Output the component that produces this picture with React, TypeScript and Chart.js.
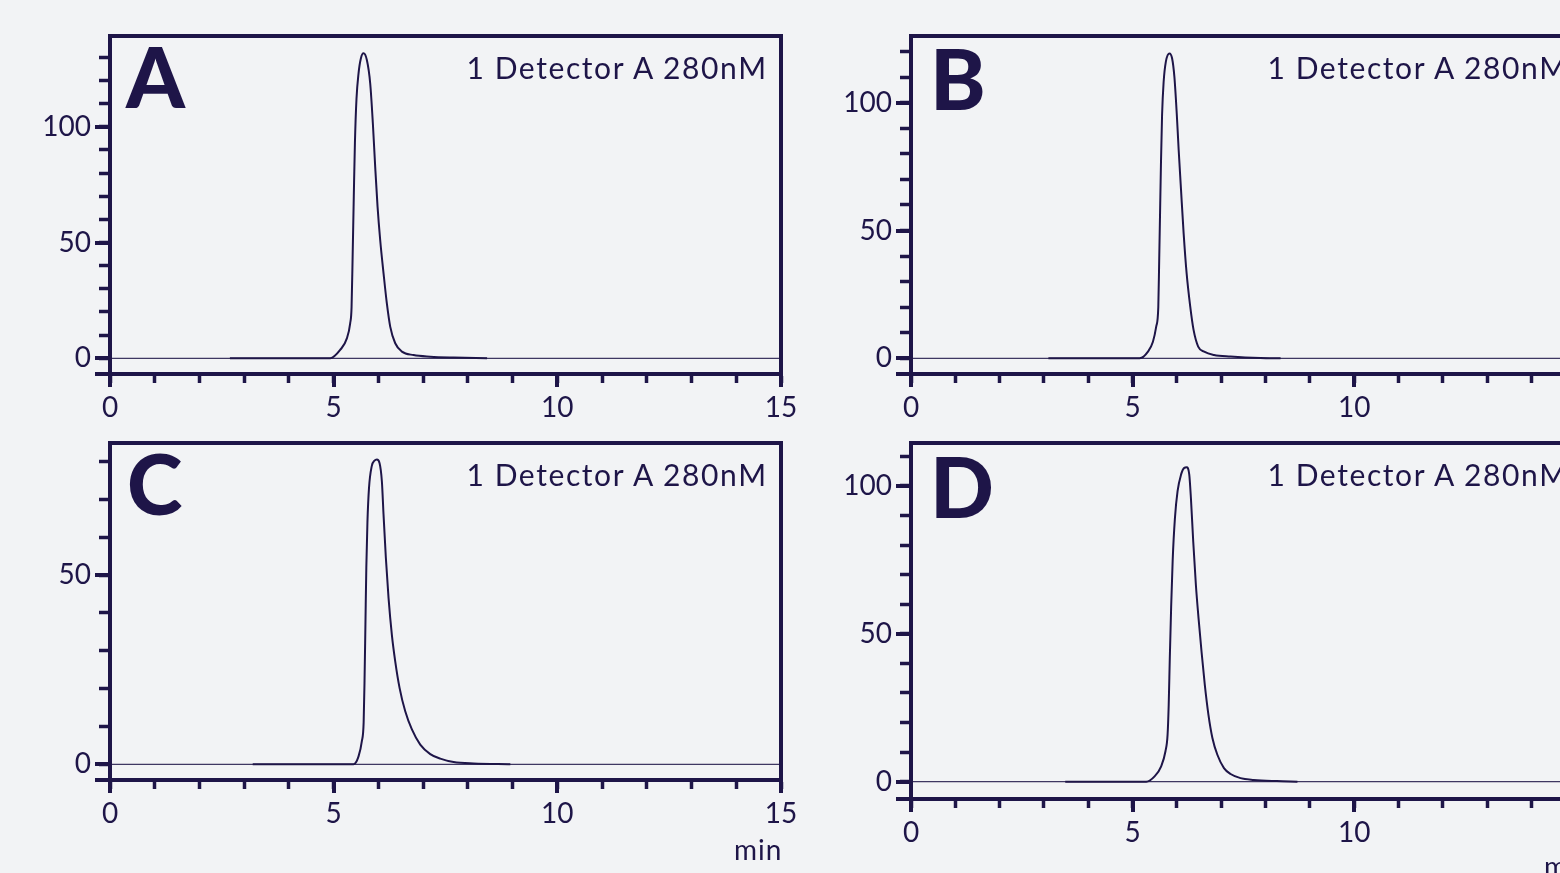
import React, { useEffect, useRef } from 'react';
import { Chart, registerables } from 'chart.js';

Chart.register(...registerables);

const NAVY = '#1e1548';
const BG = '#f2f3f5';
const FONT = 'Lato, "Noto Sans", sans-serif';

// ---------- data ----------
const xTickLabels = [0, 5, 10, 15];
const baselineTimes = [0, 15];
const baselineValues = [0, 0];

const timeA = [2.68, 4.922, 5.145, 5.295, 5.369, 5.4, 5.425, 5.45, 5.475, 5.51, 5.556, 5.608, 5.667, 5.742, 5.817, 5.876, 5.928, 5.981, 6.04, 6.115, 6.189, 6.264, 6.376, 6.525, 6.786, 7.159, 7.681, 8.43];
const signalA = [0, 0, 3.6, 8.6, 15.1, 22, 45, 70, 93, 112, 123.1, 129.5, 131.7, 128.8, 118.7, 101.5, 82.8, 65.5, 51.1, 36.7, 23.7, 13.7, 6.5, 2.9, 1.4, 0.7, 0.3, 0];
const yLabelsA = [0, 50, 100];

const timeB = [3.1, 5.16, 5.347, 5.459, 5.533, 5.58, 5.6, 5.62, 5.64, 5.665, 5.7, 5.75, 5.832, 5.891, 5.943, 5.996, 6.04, 6.093, 6.152, 6.219, 6.301, 6.376, 6.48, 6.615, 6.838, 7.211, 7.882, 8.34];
const signalB = [0, 0, 2.6, 6.5, 12.4, 20, 38, 57, 76, 95, 108, 116, 119.3, 117.4, 110.2, 95.9, 81.5, 65.9, 48.9, 33.3, 20.2, 11.1, 4.6, 2.6, 1.3, 0.7, 0.1, 0];
const yLabelsB = [0, 50, 100];

const timeC = [3.19, 5.444, 5.556, 5.63, 5.67, 5.69, 5.71, 5.73, 5.755, 5.79, 5.85, 5.913, 5.966, 6.025, 6.078, 6.115, 6.167, 6.227, 6.301, 6.376, 6.473, 6.6, 6.749, 6.935, 7.159, 7.383, 7.681, 8.128, 8.95];
const signalC = [0, 0, 2.1, 6.1, 11, 22, 37, 52, 64, 73, 78.7, 80.2, 80.5, 79.6, 74.7, 65.9, 54.5, 43.9, 34.2, 27.2, 20.2, 14.0, 9.2, 5.2, 2.7, 1.5, 0.6, 0.2, 0];
const yLabelsC = [0, 50];

const timeD = [3.48, 5.309, 5.496, 5.645, 5.742, 5.79, 5.815, 5.84, 5.87, 5.905, 5.955, 6.015, 6.093, 6.167, 6.219, 6.279, 6.316, 6.368, 6.428, 6.488, 6.555, 6.629, 6.711, 6.801, 6.913, 7.062, 7.211, 7.435, 7.733, 8.255, 8.72];
const signalD = [0, 0, 1.8, 5.2, 10.3, 16, 26, 42, 59, 75, 89, 98.2, 103.8, 106.1, 106.3, 103.8, 95.9, 81.3, 66.6, 55.3, 44.1, 32.8, 22.7, 14.8, 9.1, 4.6, 2.6, 1.2, 0.6, 0.2, 0];
const yLabelsD = [0, 50, 100];

const detectorLabel = '1 Detector A 280nM';

// ---------- layout ----------
const CANVAS_W = 1600;
const CANVAS_H = 880;
const YW = 100;
const XH = 70;
const LW = 4;

type Panel = {
  letter: string;
  times: number[];
  values: number[];
  yLabels: number[];
  yMin: number;
  yMax: number;
  area: { left: number; top: number; right: number; bottom: number };
  letterPos: { left: number; top: number };
  showMin: { left: number; top: number } | null;
};

const panels: Panel[] = [
  { letter: 'A', times: timeA, values: signalA, yLabels: yLabelsA, yMin: -6.78, yMax: 139.2,
    area: { left: 110, top: 36, right: 781, bottom: 374 }, letterPos: { left: 126, top: 34 }, showMin: null },
  { letter: 'B', times: timeB, values: signalB, yLabels: yLabelsB, yMin: -6.14, yMax: 126.1,
    area: { left: 911, top: 36, right: 1582, bottom: 374 }, letterPos: { left: 930, top: 36 }, showMin: null },
  { letter: 'C', times: timeC, values: signalC, yLabels: yLabelsC, yMin: -4.15, yMax: 84.87,
    area: { left: 110, top: 443, right: 781, bottom: 780 }, letterPos: { left: 127, top: 441 }, showMin: { left: 734, top: 835 } },
  { letter: 'D', times: timeD, values: signalD, yLabels: yLabelsD, yMin: -5.85, yMax: 114.5,
    area: { left: 911, top: 443, right: 1582, bottom: 799 }, letterPos: { left: 930, top: 444 }, showMin: { left: 1544, top: 852 } },
];

const alignW = (v: number) => Math.round(v - LW / 2) + LW / 2;

const framePlugin = {
  id: 'frame',
  afterDraw(chart: any, _args: any, opts: any) {
    const { ctx, chartArea } = chart;
    const { left, top, right, bottom } = chartArea;
    const xs = chart.scales.x;
    const ys = chart.scales.y;
    const L = alignW(left), T = alignW(top), R = alignW(right), B = alignW(bottom);
    ctx.save();
    ctx.strokeStyle = NAVY;
    ctx.lineWidth = LW;
    ctx.lineJoin = 'miter';
    ctx.lineCap = 'butt';
    // top and right border
    ctx.beginPath();
    ctx.moveTo(L - LW / 2, T);
    ctx.lineTo(R, T);
    ctx.lineTo(R, B);
    ctx.stroke();
    // bottom line extension to the left
    ctx.beginPath();
    ctx.moveTo(L - 15, B);
    ctx.lineTo(L, B);
    ctx.stroke();
    // longer major ticks
    ctx.beginPath();
    for (const v of xTickLabels) {
      const px = alignW(xs.getPixelForValue(v));
      ctx.moveTo(px, B);
      ctx.lineTo(px, bottom + 13);
    }
    for (const v of opts.yLabels as number[]) {
      const py = alignW(ys.getPixelForValue(v));
      ctx.moveTo(L, py);
      ctx.lineTo(left - 15, py);
    }
    ctx.stroke();
    ctx.restore();
  },
};

function PanelChart({ p }: { p: Panel }) {
  const ref = useRef<HTMLCanvasElement>(null);
  useEffect(() => {
    const tickFont = { family: FONT, size: 28, weight: 'normal' as const };
    const chart = new Chart(ref.current as HTMLCanvasElement, {
      type: 'line',
      data: {
        datasets: [
          {
            data: baselineTimes.map((t, i) => ({ x: t, y: baselineValues[i] })),
            borderColor: 'rgba(30,21,72,0.85)',
            borderWidth: 1.3,
            pointRadius: 0,
            tension: 0,
          },
          {
            data: p.times.map((t, i) => ({ x: t, y: p.values[i] })),
            borderColor: NAVY,
            borderWidth: 2,
            pointRadius: 0,
            cubicInterpolationMode: 'monotone',
          },
        ],
      },
      options: {
        responsive: false,
        animation: false,
        events: [],
        layout: {
          padding: {
            left: p.area.left - YW,
            top: p.area.top,
            right: CANVAS_W - p.area.right,
            bottom: CANVAS_H - p.area.bottom - XH,
          },
        },
        plugins: {
          legend: { display: false },
          tooltip: { enabled: false },
          title: { display: false },
          frame: { yLabels: p.yLabels },
        } as any,
        scales: {
          x: {
            type: 'linear',
            min: 0,
            max: 15,
            afterFit: (s: any) => { s.height = XH; },
            border: { display: true, color: NAVY, width: LW },
            grid: { display: true, drawOnChartArea: false, drawTicks: true, tickLength: 9, tickWidth: LW - 0.5, tickColor: NAVY },
            ticks: {
              stepSize: 1,
              autoSkip: false,
              maxRotation: 0,
              includeBounds: false,
              maxTicksLimit: 1000,
              padding: 8,
              color: NAVY,
              font: tickFont,
              callback: (v: any) => (xTickLabels.includes(Number(v)) ? String(v) : ''),
            },
          },
          y: {
            type: 'linear',
            min: p.yMin,
            max: p.yMax,
            afterFit: (s: any) => { s.width = YW; },
            border: { display: true, color: NAVY, width: LW },
            grid: { display: true, drawOnChartArea: false, drawTicks: true, tickLength: 11, tickWidth: LW - 0.5, tickColor: NAVY },
            ticks: {
              stepSize: 10,
              autoSkip: false,
              includeBounds: false,
              maxTicksLimit: 1000,
              padding: 8,
              color: NAVY,
              font: tickFont,
              callback: (v: any) => (p.yLabels.includes(Number(v)) ? String(v) : ''),
            },
          },
        },
      },
      plugins: [framePlugin],
    } as any);
    return () => chart.destroy();
  }, [p]);
  return (
    <canvas
      ref={ref}
      width={CANVAS_W}
      height={CANVAS_H}
      style={{ position: 'absolute', left: 0, top: 0, width: CANVAS_W, height: CANVAS_H }}
    />
  );
}

export default function App() {
  return (
    <div
      style={{
        position: 'absolute', left: 0, top: 0, width: 1560, height: 873,
        overflow: 'hidden', background: BG, fontFamily: FONT, color: NAVY,
      }}
    >
      {panels.map((p) => (
        <PanelChart key={p.letter} p={p} />
      ))}
      {panels.map((p) => (
        <React.Fragment key={'t' + p.letter}>
          <div
            style={{
              position: 'absolute', left: p.letterPos.left, top: p.letterPos.top,
              fontSize: 84, lineHeight: '84px', fontWeight: 900, whiteSpace: 'nowrap',
            }}
          >
            {p.letter}
          </div>
          <div
            style={{
              position: 'absolute', left: p.area.right - 13.4 - 500, width: 500, textAlign: 'right',
              top: p.area.top + 15.6, fontSize: 30, lineHeight: '30px', letterSpacing: '1.6px',
              whiteSpace: 'nowrap',
            }}
          >
            {detectorLabel}
          </div>
          {p.showMin && (
            <div
              style={{
                position: 'absolute', left: p.showMin.left, top: p.showMin.top,
                fontSize: 28, lineHeight: '28px', letterSpacing: '1px', whiteSpace: 'nowrap',
              }}
            >
              min
            </div>
          )}
        </React.Fragment>
      ))}
    </div>
  );
}
